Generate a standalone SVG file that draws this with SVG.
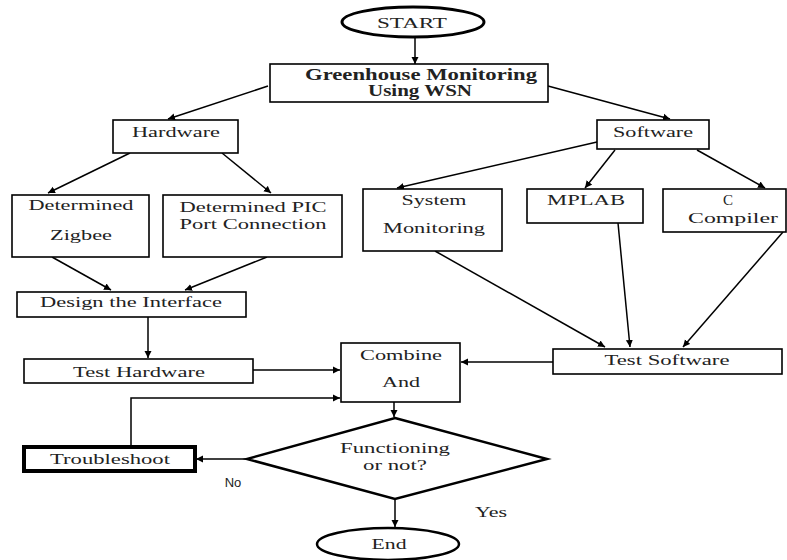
<svg xmlns="http://www.w3.org/2000/svg" width="787" height="560" viewBox="0 0 787 560">
<style>
.b{fill:#fff;stroke:#000;stroke-width:1.6}
.t{font-family:'Liberation Serif','DejaVu Serif','Times New Roman',serif;font-size:15px;fill:#222;text-anchor:middle}
.bold{font-weight:bold;font-size:16px}
.s{font-family:'Liberation Sans','DejaVu Sans',Arial,sans-serif;font-size:13px;fill:#222;text-anchor:middle}
.c{fill:none;stroke:#000;stroke-width:1.5;marker-end:url(#ah)}
</style>
<defs>
<marker id="ah" markerWidth="8" markerHeight="8" refX="7" refY="4" orient="auto" markerUnits="userSpaceOnUse">
<path d="M0,0.5 L7,4 L0,7.5 Z" fill="#000"/>
</marker>
</defs>
<rect width="787" height="560" fill="#fff"/>
<g id="connectors">
<path class="c" d="M415,37 L415,64"/>
<path class="c" d="M268,86 L168,119"/>
<path class="c" d="M548,86 L670,119"/>
<path class="c" d="M130,153 L48,193"/>
<path class="c" d="M222,153 L271,193"/>
<path class="c" d="M52,257 L111,290"/>
<path class="c" d="M267,257 L185,290"/>
<path class="c" d="M597,142 L397,188"/>
<path class="c" d="M615,150 L585,188"/>
<path class="c" d="M697,150 L765,188"/>
<path class="c" d="M435,251 L605,347"/>
<path class="c" d="M618,223 L630,347"/>
<path class="c" d="M783,232 L683,347"/>
<path class="c" d="M148,317 L148,358"/>
<path class="c" d="M253,370 L340,370"/>
<path class="c" d="M553,362 L461,362"/>
<path class="c" d="M131,446 L131,398 L340,398"/>
<path class="c" d="M394,402 L394,417"/>
<path class="c" d="M247,459 L196,459"/>
<path class="c" d="M395,499 L395,527"/>
</g>
<g id="start">
<ellipse cx="413" cy="22" rx="71" ry="15" fill="#fff" stroke="#000" stroke-width="3"/>
<text class="t" x="412" y="28" textLength="70" lengthAdjust="spacingAndGlyphs">START</text>
</g>
<g id="greenhouse">
<rect class="b" x="270" y="64" width="278" height="38"/>
<text class="t bold" x="421" y="80" textLength="232" lengthAdjust="spacingAndGlyphs">Greenhouse Monitoring</text>
<text class="t bold" x="420" y="96" textLength="104" lengthAdjust="spacingAndGlyphs">Using WSN</text>
</g>
<g id="hardware">
<rect class="b" x="113" y="120" width="125" height="33"/>
<text class="t" x="176" y="137" textLength="88" lengthAdjust="spacingAndGlyphs">Hardware</text>
</g>
<g id="software">
<rect class="b" x="597" y="120" width="112" height="29"/>
<text class="t" x="653" y="137" textLength="80" lengthAdjust="spacingAndGlyphs">Software</text>
</g>
<g id="zigbee">
<rect class="b" x="12" y="195" width="137" height="62"/>
<text class="t" x="81" y="210" textLength="105" lengthAdjust="spacingAndGlyphs">Determined</text>
<text class="t" x="81" y="240" textLength="62" lengthAdjust="spacingAndGlyphs">Zigbee</text>
</g>
<g id="pic">
<rect class="b" x="163" y="195" width="179" height="62"/>
<text class="t" x="253" y="212" textLength="147" lengthAdjust="spacingAndGlyphs">Determined PIC</text>
<text class="t" x="253" y="229" textLength="147" lengthAdjust="spacingAndGlyphs">Port Connection</text>
</g>
<g id="sysmon">
<rect class="b" x="363" y="189" width="139" height="62"/>
<text class="t" x="434" y="205" textLength="65" lengthAdjust="spacingAndGlyphs">System</text>
<text class="t" x="434" y="233" textLength="102" lengthAdjust="spacingAndGlyphs">Monitoring</text>
</g>
<g id="mplab">
<rect class="b" x="527" y="189" width="116" height="34"/>
<text class="t" x="586" y="205" textLength="78" lengthAdjust="spacingAndGlyphs">MPLAB</text>
</g>
<g id="ccompiler">
<rect class="b" x="663" y="189" width="123" height="43"/>
<text class="t" x="728" y="205">C</text>
<text class="t" x="733" y="223" textLength="90" lengthAdjust="spacingAndGlyphs">Compiler</text>
</g>
<g id="design">
<rect class="b" x="17" y="292" width="229" height="25"/>
<text class="t" x="131" y="307" textLength="182" lengthAdjust="spacingAndGlyphs">Design the Interface</text>
</g>
<g id="testhw">
<rect class="b" x="24" y="359" width="229" height="24"/>
<text class="t" x="139" y="377" textLength="132" lengthAdjust="spacingAndGlyphs">Test Hardware</text>
</g>
<g id="combine">
<rect class="b" x="341" y="343" width="119" height="59"/>
<text class="t" x="401" y="360" textLength="82" lengthAdjust="spacingAndGlyphs">Combine</text>
<text class="t" x="401" y="387" textLength="38" lengthAdjust="spacingAndGlyphs">And</text>
</g>
<g id="testsw">
<rect class="b" x="553" y="349" width="229" height="25"/>
<text class="t" x="667" y="365" textLength="125" lengthAdjust="spacingAndGlyphs">Test Software</text>
</g>
<g id="decision">
<polygon points="395,418 547,459 395,499 247,459" fill="#fff" stroke="#000" stroke-width="2.5"/>
<text class="t" x="395" y="453" textLength="110" lengthAdjust="spacingAndGlyphs">Functioning</text>
<text class="t" x="395" y="470" textLength="64" lengthAdjust="spacingAndGlyphs">or not?</text>
</g>
<g id="troubleshoot">
<rect x="24" y="447" width="171" height="24" fill="#fff" stroke="#000" stroke-width="4"/>
<text class="t" x="110" y="464" textLength="120" lengthAdjust="spacingAndGlyphs">Troubleshoot</text>
</g>
<g id="end">
<ellipse cx="388" cy="544" rx="71" ry="16" fill="#fff" stroke="#000" stroke-width="2.5"/>
<text class="t" x="389" y="549" textLength="35" lengthAdjust="spacingAndGlyphs">End</text>
</g>
<g id="labels">
<text class="s" x="233" y="487">No</text>
<text class="t" x="491" y="517" textLength="32" lengthAdjust="spacingAndGlyphs">Yes</text>
</g>
</svg>
